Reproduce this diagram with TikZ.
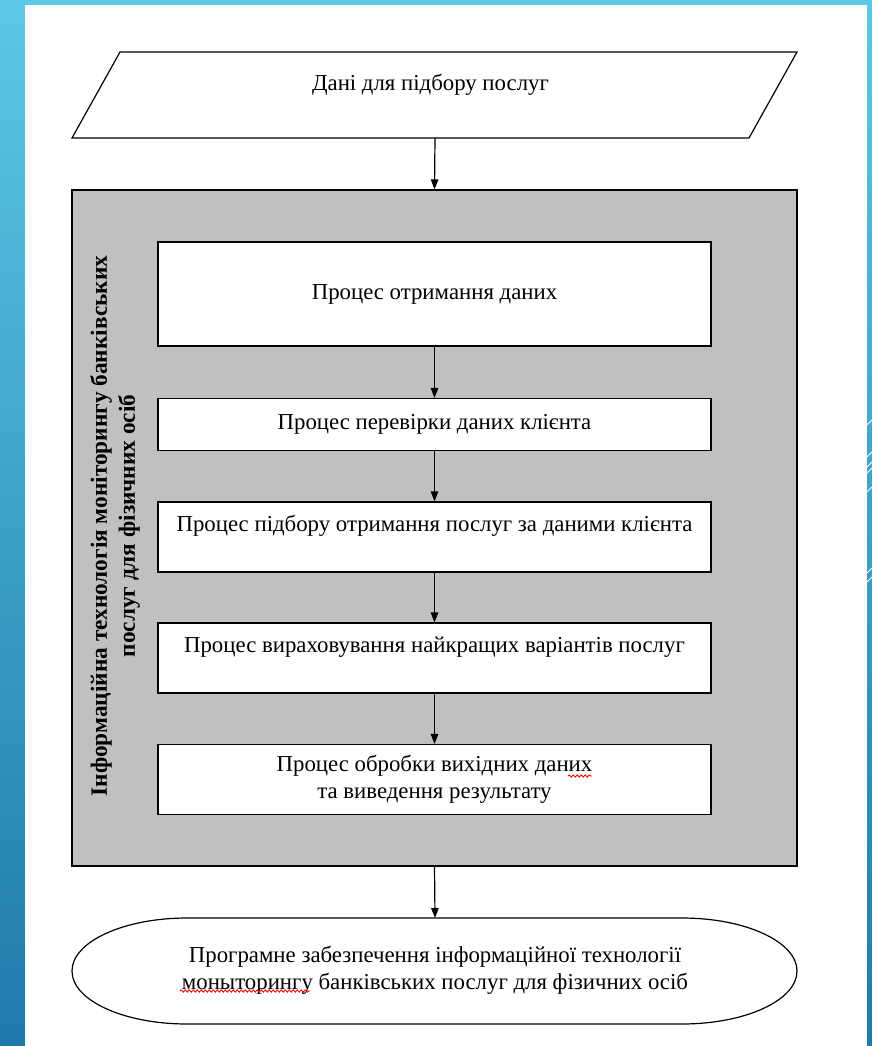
\documentclass[tikz,border=0pt]{standalone}
\usepackage{fontspec}
\setmainfont{Liberation Serif}
\usetikzlibrary{arrows.meta,decorations.pathmorphing}
\definecolor{slidetop}{HTML}{5BC8E5}
\definecolor{slidebot}{HTML}{1F7AAB}
\definecolor{panelgray}{HTML}{C0C0C0}

\begin{document}
\begin{tikzpicture}[x=1pt,y=-1pt,
	proc/.style={draw,line width=1.2,fill=white,minimum width=553pt,inner sep=0pt,align=center,font=\fontsize{22.8}{27}\selectfont},
	flow/.style={line width=1.2,-{Triangle[length=10pt,width=7.5pt]}},
	spell/.style={red,line width=0.9,decorate,decoration={snake,amplitude=1.1pt,segment length=4pt}}]
		% slide background
		\useasboundingbox (0,0) rectangle (872,1046);
		\shade[top color=slidetop,bottom color=slidebot] (0,0) rectangle (872,1046);
		\fill[white] (25,5) rectangle (867,1046);
		\foreach \y in {422,454,464,470,489,570,579}
			\draw[white,line width=1] (866,\y+4) -- (872,\y-2);
		% input data
		\coordinate (inTL) at (120,52);
		\coordinate (inTR) at (797,52);
		\coordinate (inBR) at (749,138);
		\coordinate (inBL) at (72,138);
		\coordinate (inS) at (435,138);
		\draw [line width=1.2,fill=white] (inTL) -- (inTR) -- (inBR) -- (inBL) -- cycle;
		\node (indata) at (430.5,85) [font=\fontsize{22.8}{27}\selectfont] {Дані для підбору послуг};
		% information technology panel
		\node (itbox) at (434.5,528) [draw,line width=1.2,fill=panelgray,minimum width=725pt,minimum height=676pt] {};
		\node (itlabel) at (115,526) [rotate=90,align=center,font=\bfseries\fontsize{23.3}{28}\selectfont] {Інформаційна технологія моніторингу банківських\\послуг для фізичних осіб};
		\node (p1) at (434.5,294) [proc,minimum height=104pt] {Процес отримання даних};
		\node (p2) at (434.5,424.5) [proc,minimum height=52pt] {Процес перевірки даних клієнта};
		\node (p3) at (434.5,537) [proc,minimum height=70pt] {Процес підбору отримання послуг за даними клієнта\\~};
		\node (p4) at (434.5,658) [proc,minimum height=70pt] {Процес вираховування найкращих варіантів послуг\\~};
		\node (p5) at (434.5,779.5) [proc,minimum height=70pt] {Процес обробки вихідних даних\\та виведення результату};
		% software terminal
		\coordinate (softN) at (435,918);
		\draw [line width=1.2,fill=white] (187,918) -- (682,918) arc[start angle=-90,end angle=90,x radius=115,y radius=53]
			-- (187,1024) arc[start angle=90,end angle=270,x radius=115,y radius=53] -- cycle;
		\node (soft) at (435,970) [align=center,font=\fontsize{22.8}{27}\selectfont] {Програмне забезпечення інформаційної технології\\моныторингу банківських послуг для фізичних осіб};
		% flow
		\draw [flow] (inS) -- (itbox.north);
		\draw [flow] (p1) -- (p2);
		\draw [flow] (p2) -- (p3);
		\draw [flow] (p3) -- (p4);
		\draw [flow] (p4) -- (p5);
		\draw [flow] (itbox.south) -- (softN);
		% spell check marks
		\draw [spell] (568,776) -- (592,776);
		\draw [spell] (180,991) -- (310,991);
	\end{tikzpicture}
\end{document}
